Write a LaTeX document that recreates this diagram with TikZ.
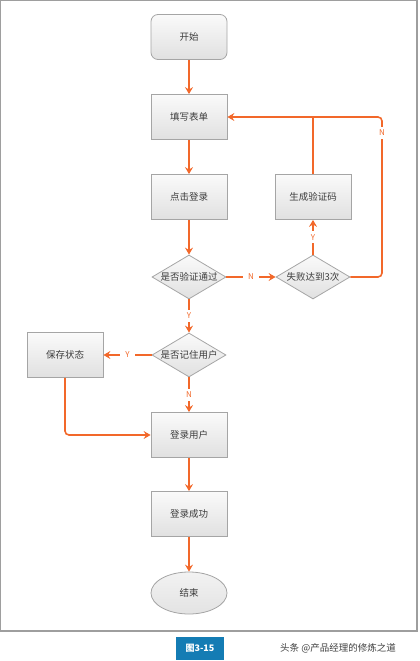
\documentclass[tikz,border=0pt]{standalone}
\usepackage{fontspec}
\newfontfamily\cjk{Noto Sans CJK SC}
\usetikzlibrary{shapes.geometric,arrows.meta}
\definecolor{flowor}{RGB}{242,104,42}
\definecolor{boxline}{RGB}{165,165,165}
\definecolor{txtgray}{RGB}{60,60,60}
\definecolor{tagblue}{RGB}{20,124,180}
\tikzset{
  base/.style={draw=boxline, line width=0.8pt, top color=black!2, bottom color=black!12,
    font=\cjk\fontsize{9.5}{11}\selectfont, text=txtgray, inner sep=0pt},
  procbox/.style={base, rectangle, minimum width=76pt, minimum height=45pt},
  startbox/.style={procbox, rounded corners=7pt},
  decision/.style={base, diamond, minimum width=74pt, minimum height=44pt, aspect=1.7},
  endbox/.style={base, ellipse, minimum width=76pt, minimum height=42pt, top color=black!5, bottom color=black!11},
  flow/.style={draw=flowor, line width=1.6pt, -{Stealth[length=7pt,width=8pt,inset=2.5pt]}},
  plainflow/.style={draw=flowor, line width=1.6pt},
  lbl/.style={fill=white, text=flowor, font=\cjk\fontsize{8}{9}\selectfont, inner xsep=5pt, inner ysep=3pt},
}
\begin{document}
\begin{tikzpicture}[x=1pt,y=-1pt]
\useasboundingbox (0,0) rectangle (420,661);
\draw[black!38, line width=1.2pt] (0.6,0.6) rectangle (417,631);

\node[startbox] (start) at (189,37) {开始};
\node[procbox] (fill) at (189,117) {填写表单};
\node[procbox] (click) at (189,197) {点击登录};
\node[decision] (verify) at (189,277) {\makebox[0pt]{是否验证通过}};
\node[decision] (fail) at (313,277) {\makebox[0pt]{失败达到3次}};
\node[procbox] (gen) at (313,197) {生成验证码};
\node[decision] (remember) at (189,355) {\makebox[0pt]{是否记住用户}};
\node[procbox] (save) at (65,355) {保存状态};
\node[procbox] (login) at (189,435) {登录用户};
\node[procbox] (ok) at (189,514) {登录成功};
\node[endbox] (end) at (189,593) {结束};

\coordinate (loopB) at (382,277);
\coordinate (loopT) at (382,117);

\draw[flow] (start) -- (fill);
\draw[flow] (fill) -- (click);
\draw[flow] (click) -- (verify);
\draw[flow] (verify) -- node[lbl] {N} (fail);
\draw[flow] (fail) -- node[lbl] {Y} (gen);
\draw[plainflow] (gen.north) -- (gen.north |- fill.east);
\draw[flow, rounded corners=4pt] (fail.east) -- (loopB) -- (loopT) -- (fill.east);
\node[lbl] (nloop) at (382,133) {N};
\draw[flow] (verify) -- node[lbl] {Y} (remember);
\draw[flow] (remember) -- node[lbl] {Y} (save);
\draw[flow] (remember) -- node[lbl] {N} (login);
\draw[flow, rounded corners=4pt] (save.south) |- (login.west);
\draw[flow] (login) -- (ok);
\draw[flow] (ok) -- (end);

\node[fill=tagblue, text=white, font=\cjk\bfseries\fontsize{9}{10}\selectfont, minimum width=48pt, minimum height=23pt, inner sep=0pt] (tag) at (200,648.5) {图3-15};
\node[text=black!75, font=\cjk\fontsize{9.5}{10}\selectfont, anchor=west, inner sep=0pt] (mark) at (280,648) {头条 @产品经理的修炼之道};
\end{tikzpicture}
\end{document}
